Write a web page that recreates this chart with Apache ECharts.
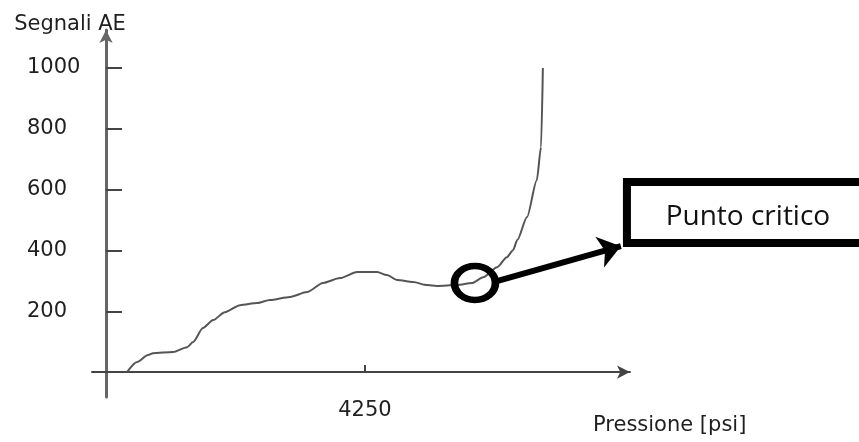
<!DOCTYPE html>
<html>
<head>
<meta charset="utf-8">
<title>Segnali AE - Pressione</title>
<script src="https://cdn.jsdelivr.net/npm/echarts@6/dist/echarts.min.js"></script>
<style>
  html, body { margin: 0; padding: 0; background: #ffffff; }
  #chart { width: 859px; height: 442px; }
</style>
</head>
<body>
<div id="chart"></div>
<script>
// Acoustic emission signals recorded while pressure increases
const PRESSURE = [345, 510, 690, 770, 1100, 1330, 1430, 1590, 1760, 1950, 2200, 2480, 2690,
  3020, 3300, 3560, 3840, 4120, 4450, 4610, 4780, 5040, 5270, 5430, 5760, 6010, 6190, 6420,
  6580, 6680, 6750, 6910, 7070, 7140, 7170];
const AE_SIGNALS = [0, 33, 56, 62, 66, 82, 99, 145, 171, 197, 220, 227, 237,
  247, 263, 293, 309, 329, 329, 319, 303, 296, 286, 283, 286, 293, 312, 345,
  378, 401, 434, 510, 631, 740, 1000];

// Axis ticks and labels
const Y_TICKS = [200, 400, 600, 800, 1000];
const X_TICKS = [4250];
const X_NAME = 'Pressione [psi]';
const Y_NAME = 'Segnali AE';

// Critical point and its callout
const CRITICAL_POINT = [6055, 293];
const ARROW_FROM = [6416, 299];
const ARROW_TO = [8450, 414];
const CALLOUT_AT = [8484, 418];
const CALLOUT_TEXT = 'Punto critico';

const points = PRESSURE.map((p, i) => [p, AE_SIGNALS[i]]);
const labelFont = '"DejaVu Sans", Verdana, sans-serif';
const labelColor = '#1f1f1f';

const chart = echarts.init(document.getElementById('chart'), null, { renderer: 'canvas' });

chart.setOption({
  animation: false,
  backgroundColor: '#ffffff',
  grid: { left: 92, right: 229, top: 30, bottom: 45, outerBoundsMode: 'none', containLabel: false },
  xAxis: {
    type: 'value',
    min: -230,
    max: 8600,
    name: X_NAME,
    nameLocation: 'end',
    nameGap: -37,
    nameTextStyle: {
      fontFamily: labelFont, fontSize: 21, color: labelColor,
      align: 'left', verticalAlign: 'top', padding: [43, 0, 0, 0]
    },
    axisLine: {
      show: true, onZero: true,
      symbol: ['none', 'arrow'], symbolSize: [10, 13],
      lineStyle: { color: '#444', width: 2 }
    },
    axisTick: {
      show: true, inside: true, length: 7, customValues: X_TICKS,
      lineStyle: { color: '#444', width: 2 }
    },
    axisLabel: {
      show: true, customValues: X_TICKS, margin: 3,
      formatter: v => String(v),
      fontFamily: labelFont, fontSize: 21, color: labelColor
    },
    splitLine: { show: false }
  },
  yAxis: {
    type: 'value',
    min: -82,
    max: 1125,
    name: Y_NAME,
    nameLocation: 'end',
    nameGap: 5,
    nameTextStyle: {
      fontFamily: labelFont, fontSize: 21, color: labelColor,
      align: 'center', verticalAlign: 'middle', padding: [0, 72, 0, 0]
    },
    axisLine: {
      show: true, onZero: true,
      symbol: ['none', 'arrow'], symbolSize: [10, 13],
      lineStyle: { color: '#666', width: 3 }
    },
    axisTick: {
      show: true, inside: true, length: 16, customValues: Y_TICKS,
      lineStyle: { color: '#444', width: 2 }
    },
    axisLabel: {
      show: true, customValues: Y_TICKS, margin: 65, align: 'left',
      formatter: v => String(v),
      fontFamily: labelFont, fontSize: 21, color: labelColor
    },
    splitLine: { show: false }
  },
  series: [
    {
      type: 'line',
      data: points,
      showSymbol: false,
      smooth: 0.25,
      smoothMonotone: 'x',
      silent: true,
      lineStyle: { color: '#555', width: 2 }
    },
    {
      type: 'scatter',
      data: [CRITICAL_POINT],
      symbol: 'circle',
      symbolSize: [41, 34],
      silent: true,
      z: 5,
      itemStyle: { color: 'rgba(0,0,0,0)', borderColor: '#000', borderWidth: 7, opacity: 1 },
      markLine: {
        silent: true,
        symbol: ['none', 'arrow'],
        symbolSize: [24, 22],
        label: { show: false },
        lineStyle: { color: '#000', width: 6, type: 'solid', opacity: 1 },
        itemStyle: { color: '#000' },
        data: [[{ coord: ARROW_FROM }, { coord: ARROW_TO }]]
      }
    }
  ]
});

// Callout box anchored to the arrow's target in data space
const corner = chart.convertToPixel({ gridIndex: 0 }, CALLOUT_AT);
chart.setOption({
  graphic: [
    {
      type: 'rect',
      z: 10,
      shape: { x: corner[0] + 4, y: corner[1] - 63, width: 400, height: 61 },
      style: { fill: '#ffffff', stroke: '#000000', lineWidth: 8 }
    },
    {
      type: 'text',
      z: 11,
      style: {
        text: CALLOUT_TEXT,
        x: corner[0] + 125,
        y: corner[1] - 28,
        align: 'center',
        verticalAlign: 'middle',
        font: '28px "Open Sans", sans-serif',
        fill: '#111111'
      }
    }
  ]
});
</script>
</body>
</html>
